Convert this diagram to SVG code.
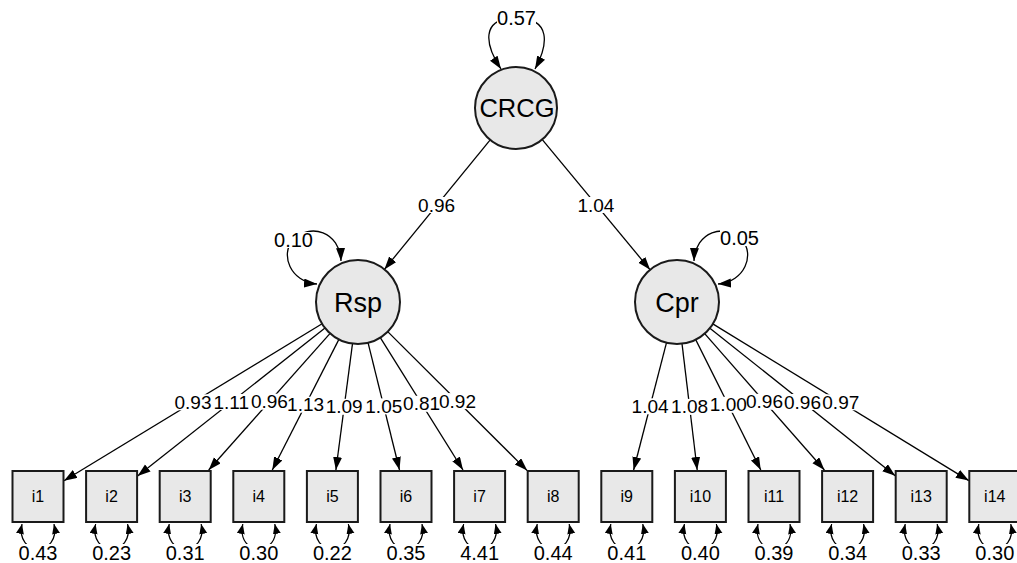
<svg xmlns="http://www.w3.org/2000/svg" width="1017" height="563" viewBox="0 0 1017 563">
<defs>
<style>
.lat{fill:#e8e8e8;stroke:#1a1a1a;stroke-width:2}
.man{fill:#e8e8e8;stroke:#1a1a1a;stroke-width:2}
.e{stroke:#000;stroke-width:1.3;fill:none;marker-end:url(#ah)}
.lp{stroke:#000;stroke-width:1.3;fill:none;marker-start:url(#ah2);marker-end:url(#ah2)}
.sp{stroke:#000;stroke-width:1.2;fill:none;marker-start:url(#sm);marker-end:url(#sm)}
.bg{fill:#fff}
.t{font-family:"Liberation Sans",Arial,sans-serif;fill:#000;text-anchor:middle}
.el{font-size:19px}
.vl{font-size:20px}
.nl{font-size:25.5px}
.nl2{font-size:27px}
.bl{font-size:16px}
</style>
<marker id="ah" markerWidth="13" markerHeight="10" refX="13" refY="4.5" orient="auto" markerUnits="userSpaceOnUse"><path d="M0,0 L13,4.5 L0,9 z" fill="#000"/></marker>
<marker id="ah2" markerWidth="13" markerHeight="10" refX="13" refY="4.5" orient="auto-start-reverse" markerUnits="userSpaceOnUse"><path d="M0,0 L13,4.5 L0,9 z" fill="#000"/></marker>
<marker id="sm" markerWidth="10" markerHeight="9" refX="10" refY="4" orient="auto-start-reverse" markerUnits="userSpaceOnUse"><path d="M0,0 L10,4 L0,8 z" fill="#000"/></marker>
</defs>
<rect width="1017" height="563" fill="#fff"/>
<g id="connectors">
<line class="e" x1="490.2" y1="139.9" x2="384.4" y2="269.4"/>
<line class="e" x1="542.3" y1="139.6" x2="650.1" y2="269.8"/>
<line class="e" x1="322.1" y1="323.8" x2="64" y2="480.7"/>
<line class="e" x1="325" y1="328" x2="137.6" y2="476"/>
<line class="e" x1="330.1" y1="333.4" x2="208.7" y2="470"/>
<line class="e" x1="338.9" y1="339.4" x2="272.3" y2="470"/>
<line class="e" x1="352.5" y1="343.6" x2="335.9" y2="470"/>
<line class="e" x1="368.1" y1="342.8" x2="399.5" y2="470"/>
<line class="e" x1="380.3" y1="337.6" x2="463" y2="470"/>
<line class="e" x1="387.7" y1="331.6" x2="527.2" y2="470.6"/>
<line class="e" x1="666.5" y1="342.7" x2="633.6" y2="470"/>
<line class="e" x1="682" y1="343.7" x2="697.2" y2="470"/>
<line class="e" x1="695.7" y1="339.6" x2="760.8" y2="470"/>
<line class="e" x1="704.7" y1="333.6" x2="824.4" y2="470"/>
<line class="e" x1="709.9" y1="328.2" x2="895.2" y2="475.8"/>
<line class="e" x1="712.8" y1="323.9" x2="968.8" y2="480.6"/>
<path class="lp" d="M501,69 C485,45 480,18 516,18 C552,18 548,45 535,69"/>
<path class="lp" d="M341,261 C340,232 310,222 293,240 C280,254 290,282 317,284"/>
<path class="lp" d="M694,261 C695,232 725,222 742,240 C755,254 745,282 718,284"/>
<path class="sp" d="M22,524 C15,557 61,557 54,524"/>
<path class="sp" d="M95.6,524 C88.6,557 134.6,557 127.6,524"/>
<path class="sp" d="M169.2,524 C162.2,557 208.2,557 201.2,524"/>
<path class="sp" d="M242.8,524 C235.8,557 281.8,557 274.8,524"/>
<path class="sp" d="M316.4,524 C309.4,557 355.4,557 348.4,524"/>
<path class="sp" d="M390,524 C383,557 429,557 422,524"/>
<path class="sp" d="M463.6,524 C456.6,557 502.6,557 495.6,524"/>
<path class="sp" d="M537.2,524 C530.2,557 576.2,557 569.2,524"/>
<path class="sp" d="M610.8,524 C603.8,557 649.8,557 642.8,524"/>
<path class="sp" d="M684.4,524 C677.4,557 723.4,557 716.4,524"/>
<path class="sp" d="M758,524 C751,557 797,557 790,524"/>
<path class="sp" d="M831.6,524 C824.6,557 870.6,557 863.6,524"/>
<path class="sp" d="M905.2,524 C898.2,557 944.2,557 937.2,524"/>
<path class="sp" d="M978.8,524 C971.8,557 1017.8,557 1010.8,524"/>
<g class="bg">
<rect x="418.6" y="197" width="36" height="16"/>
<rect x="577.9" y="197" width="36" height="16"/>
<rect x="175" y="394.3" width="36" height="16"/>
<rect x="213.3" y="394" width="36" height="16"/>
<rect x="251.4" y="393.7" width="36" height="16"/>
<rect x="287.6" y="396.7" width="36" height="16"/>
<rect x="326.2" y="398.8" width="36" height="16"/>
<rect x="365.8" y="398.4" width="36" height="16"/>
<rect x="403.6" y="395.8" width="36" height="16"/>
<rect x="439.5" y="393.1" width="36" height="16"/>
<rect x="632.1" y="398.3" width="36" height="16"/>
<rect x="671.6" y="398.9" width="36" height="16"/>
<rect x="710.3" y="396.8" width="36" height="16"/>
<rect x="746.5" y="393.8" width="36" height="16"/>
<rect x="784.5" y="394" width="36" height="16"/>
<rect x="822.8" y="394.3" width="36" height="16"/>
<rect x="497" y="10" width="39" height="16"/>
<rect x="274" y="232" width="39" height="16"/>
<rect x="720" y="230" width="39" height="16"/>
<rect x="18" y="544" width="40" height="17"/>
<rect x="91.6" y="544" width="40" height="17"/>
<rect x="165.2" y="544" width="40" height="17"/>
<rect x="238.8" y="544" width="40" height="17"/>
<rect x="312.4" y="544" width="40" height="17"/>
<rect x="386" y="544" width="40" height="17"/>
<rect x="459.6" y="544" width="40" height="17"/>
<rect x="533.2" y="544" width="40" height="17"/>
<rect x="606.8" y="544" width="40" height="17"/>
<rect x="680.4" y="544" width="40" height="17"/>
<rect x="754" y="544" width="40" height="17"/>
<rect x="827.6" y="544" width="40" height="17"/>
<rect x="901.2" y="544" width="40" height="17"/>
<rect x="974.8" y="544" width="40" height="17"/>
</g>
<g class="t el">
<text x="436.6" y="211.5">0.96</text>
<text x="595.9" y="211.5">1.04</text>
<text x="193" y="408.8">0.93</text>
<text x="231.3" y="408.5">1.11</text>
<text x="269.4" y="408.2">0.96</text>
<text x="305.6" y="411.2">1.13</text>
<text x="344.2" y="413.3">1.09</text>
<text x="383.8" y="412.9">1.05</text>
<text x="421.6" y="410.3">0.81</text>
<text x="457.5" y="407.6">0.92</text>
<text x="650.1" y="412.8">1.04</text>
<text x="689.6" y="413.4">1.08</text>
<text x="728.3" y="411.3">1.00</text>
<text x="764.5" y="408.3">0.96</text>
<text x="802.5" y="408.5">0.96</text>
<text x="840.8" y="408.8">0.97</text>
</g>
<g class="t vl">
<text x="516.5" y="25">0.57</text>
<text x="293.5" y="247">0.10</text>
<text x="739.5" y="245">0.05</text>
<text x="38" y="559.5">0.43</text>
<text x="111.6" y="559.5">0.23</text>
<text x="185.2" y="559.5">0.31</text>
<text x="258.8" y="559.5">0.30</text>
<text x="332.4" y="559.5">0.22</text>
<text x="406" y="559.5">0.35</text>
<text x="479.6" y="559.5">4.41</text>
<text x="553.2" y="559.5">0.44</text>
<text x="626.8" y="559.5">0.41</text>
<text x="700.4" y="559.5">0.40</text>
<text x="774" y="559.5">0.39</text>
<text x="847.6" y="559.5">0.34</text>
<text x="921.2" y="559.5">0.33</text>
<text x="994.8" y="559.5">0.30</text>
</g>
</g>
<g id="CRCG"><circle class="lat" cx="516" cy="108" r="41"/><text class="t nl" x="517" y="117">CRCG</text></g>
<g id="Rsp"><circle class="lat" cx="358" cy="302" r="42"/><text class="t nl2" x="358" y="312">Rsp</text></g>
<g id="Cpr"><circle class="lat" cx="677" cy="302" r="42"/><text class="t nl2" x="677" y="312">Cpr</text></g>
<g id="i1"><rect class="man" x="12.5" y="471" width="51" height="51"/><text class="t bl" x="38" y="502">i1</text></g>
<g id="i2"><rect class="man" x="86.1" y="471" width="51" height="51"/><text class="t bl" x="111.6" y="502">i2</text></g>
<g id="i3"><rect class="man" x="159.7" y="471" width="51" height="51"/><text class="t bl" x="185.2" y="502">i3</text></g>
<g id="i4"><rect class="man" x="233.3" y="471" width="51" height="51"/><text class="t bl" x="258.8" y="502">i4</text></g>
<g id="i5"><rect class="man" x="306.9" y="471" width="51" height="51"/><text class="t bl" x="332.4" y="502">i5</text></g>
<g id="i6"><rect class="man" x="380.5" y="471" width="51" height="51"/><text class="t bl" x="406" y="502">i6</text></g>
<g id="i7"><rect class="man" x="454.1" y="471" width="51" height="51"/><text class="t bl" x="479.6" y="502">i7</text></g>
<g id="i8"><rect class="man" x="527.7" y="471" width="51" height="51"/><text class="t bl" x="553.2" y="502">i8</text></g>
<g id="i9"><rect class="man" x="601.3" y="471" width="51" height="51"/><text class="t bl" x="626.8" y="502">i9</text></g>
<g id="i10"><rect class="man" x="674.9" y="471" width="51" height="51"/><text class="t bl" x="700.4" y="502">i10</text></g>
<g id="i11"><rect class="man" x="748.5" y="471" width="51" height="51"/><text class="t bl" x="774" y="502">i11</text></g>
<g id="i12"><rect class="man" x="822.1" y="471" width="51" height="51"/><text class="t bl" x="847.6" y="502">i12</text></g>
<g id="i13"><rect class="man" x="895.7" y="471" width="51" height="51"/><text class="t bl" x="921.2" y="502">i13</text></g>
<g id="i14"><rect class="man" x="969.3" y="471" width="51" height="51"/><text class="t bl" x="994.8" y="502">i14</text></g>
</svg>
